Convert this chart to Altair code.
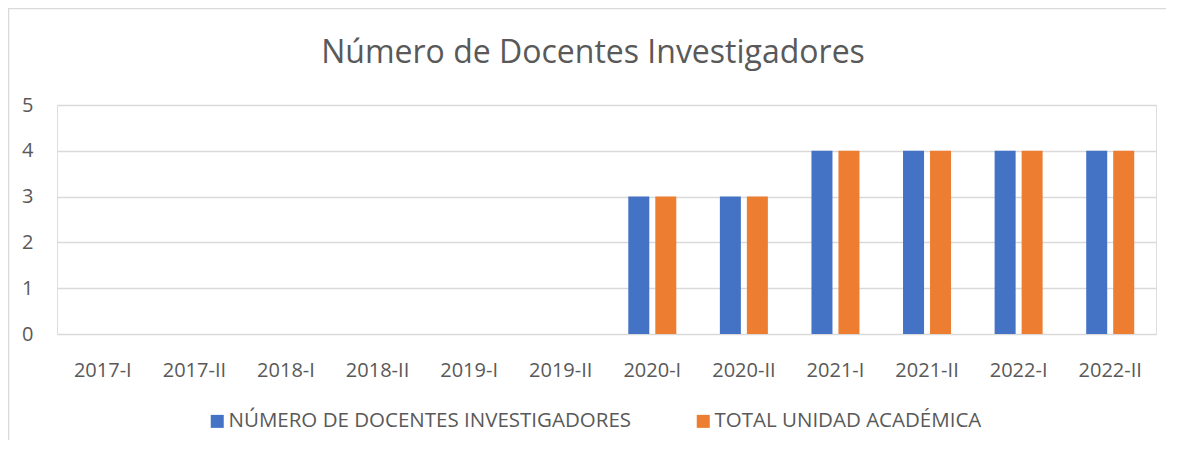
import altair as alt
import pandas as pd

periods = ["2017-I", "2017-II", "2018-I", "2018-II", "2019-I", "2019-II",
           "2020-I", "2020-II", "2021-I", "2021-II", "2022-I", "2022-II"]
docentes = [0, 0, 0, 0, 0, 0, 3, 3, 4, 4, 4, 4]
total_unidad = [0, 0, 0, 0, 0, 0, 3, 3, 4, 4, 4, 4]
series = ["NÚMERO DE DOCENTES INVESTIGADORES", "TOTAL UNIDAD ACADÉMICA"]
colors = ["#4472C4", "#ED7D31"]
y_ticks = [0, 1, 2, 3, 4, 5]
title_text = "Número de Docentes Investigadores"

rows = []
for p, a, b in zip(periods, docentes, total_unidad):
    rows.append({"periodo": p, "serie": series[0], "valor": a})
    rows.append({"periodo": p, "serie": series[1], "valor": b})
df = pd.DataFrame(rows)

FONT = "Open Sans"
TXT = "#595959"
GRID = "#d9d9d9"

bars = alt.Chart(df).mark_bar().encode(
    x=alt.X("periodo:N", sort=periods,
            scale=alt.Scale(paddingInner=0, paddingOuter=0),
            axis=alt.Axis(title=None, labelAngle=0, ticks=False, domain=False,
                          grid=False, labelPadding=26, labelFontSize=20,
                          labelFont=FONT, labelColor=TXT)),
    xOffset=alt.XOffset("serie:N", sort=series,
                        scale=alt.Scale(paddingInner=0.222, paddingOuter=0.807)),
    y=alt.Y("valor:Q", scale=alt.Scale(domain=[0, 5], nice=False),
            axis=alt.Axis(title=None, values=y_ticks, ticks=False, domain=False,
                          gridColor=GRID, gridWidth=1.5, labelPadding=24,
                          labelFontSize=20, labelFont=FONT, labelColor=TXT)),
    color=alt.Color("serie:N", sort=series,
                    scale=alt.Scale(domain=series, range=colors),
                    legend=alt.Legend(title=None, orient="none", legendX=150, legendY=306,
                                      direction="horizontal", symbolType="square",
                                      symbolSize=169, symbolStrokeWidth=0,
                                      labelFontSize=20.5, labelFont=FONT, labelColor=TXT,
                                      labelLimit=0, labelOffset=1, columnPadding=61,
                                      padding=0)),
)

border_top = alt.Chart(pd.DataFrame({"k": [0]})).mark_rule(color=GRID, strokeWidth=1.5).encode(
    x=alt.value(-49), x2=alt.value(1120), y=alt.value(-96.5))
border_left = alt.Chart(pd.DataFrame({"k": [0]})).mark_rule(color=GRID, strokeWidth=1.5).encode(
    x=alt.value(-48.5), y=alt.value(-97), y2=alt.value(345))

title = alt.Chart(pd.DataFrame({"t": [title_text]})).mark_text(
    font=FONT, fontSize=32, color=TXT, align="center", baseline="alphabetic"
).encode(text="t:N", x=alt.value(536), y=alt.value(-42))

chart = alt.layer(border_top, border_left, title, bars).properties(
    width=1099, height=229,
    autosize=alt.AutoSizeParams(type="none"),
    padding={"left": 49, "top": 97, "right": 10, "bottom": 106},
).configure_view(stroke=None).configure(background="white")

chart.save("out.html", embed_options={"renderer": "svg", "actions": False})
